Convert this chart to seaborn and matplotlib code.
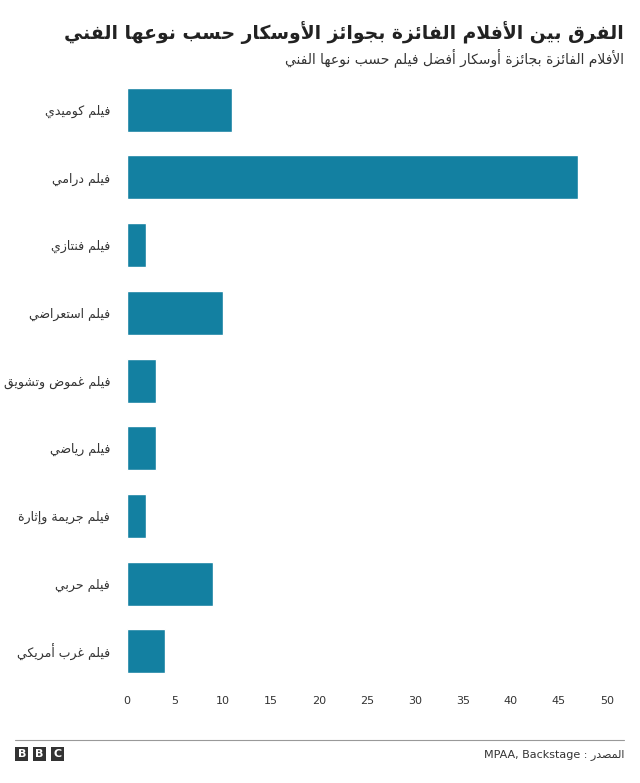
import matplotlib
matplotlib.use("Agg")
import matplotlib.pyplot as plt
import seaborn as sns
import pandas as pd

genres = ["فيلم كوميدي", "فيلم درامي", "فيلم فنتازي", "فيلم استعراضي", "فيلم غموض وتشويق",
          "فيلم رياضي", "فيلم جريمة وإثارة", "فيلم حربي", "فيلم غرب أمريكي"]
values = [11, 47, 2, 10, 3, 3, 2, 9, 4]
xticks = [0, 5, 10, 15, 20, 25, 30, 35, 40, 45, 50]
title = "الفرق بين الأفلام الفائزة بجوائز الأوسكار حسب نوعها الفني"
subtitle = "الأفلام الفائزة بجائزة أوسكار أفضل فيلم حسب نوعها الفني"
source_ar = "المصدر"
source_en = "MPAA, Backstage"

F4 = {'ب':0xFE8F,'ت':0xFE95,'ث':0xFE99,'ج':0xFE9D,'ح':0xFEA1,'خ':0xFEA5,'س':0xFEB1,'ش':0xFEB5,
      'ص':0xFEB9,'ض':0xFEBD,'ط':0xFEC1,'ظ':0xFEC5,'ع':0xFEC9,'غ':0xFECD,'ف':0xFED1,'ق':0xFED5,
      'ك':0xFED9,'ل':0xFEDD,'م':0xFEE1,'ن':0xFEE5,'ه':0xFEE9,'ي':0xFEF1,'ئ':0xFE89}
F2 = {'ا':0xFE8D,'أ':0xFE83,'إ':0xFE87,'آ':0xFE81,'ة':0xFE93,'د':0xFEA9,'ذ':0xFEAB,'ر':0xFEAD,
      'ز':0xFEAF,'و':0xFEED,'ى':0xFEEF,'ؤ':0xFE85}
LAMALEF = {'ا':0xFEFB,'أ':0xFEF7,'إ':0xFEF9,'آ':0xFEF5}

def shape(s):
    toks = []
    i = 0
    while i < len(s):
        if s[i] == 'ل' and i + 1 < len(s) and s[i+1] in LAMALEF:
            toks.append(('LA', s[i+1])); i += 2
        else:
            toks.append(('C', s[i])); i += 1
    def joins_next(t):
        return t[0] == 'C' and t[1] in F4
    def joins_prev(t):
        return t[0] == 'LA' or (t[0] == 'C' and (t[1] in F4 or t[1] in F2))
    out = []
    for k, t in enumerate(toks):
        prev = toks[k-1] if k > 0 else None
        nxt = toks[k+1] if k + 1 < len(toks) else None
        jp = prev is not None and joins_next(prev) and joins_prev(t)
        if t[0] == 'LA':
            out.append(chr(LAMALEF[t[1]] + (1 if jp else 0))); continue
        c = t[1]
        jn = nxt is not None and joins_next(t) and joins_prev(nxt)
        if c in F4:
            b = F4[c]
            out.append(chr(b + (3 if jp and jn else 1 if jp else 2 if jn else 0)))
        elif c in F2:
            out.append(chr(F2[c] + (1 if jp else 0)))
        else:
            out.append(c)
    return ''.join(out)[::-1]

sns.set_theme(style="white")
plt.rcParams['font.family'] = ['DejaVu Sans']

df = pd.DataFrame({"genre": [shape(g) for g in genres], "value": values})
fig = plt.figure(figsize=(6.4, 7.83), dpi=100)
ax = fig.add_axes([0.198, 0.125, 0.75, 0.778])
sns.barplot(data=df, x="value", y="genre", color="#1380A1", width=0.65, ax=ax, saturation=1)
ax.set_xlim(0, 50)
ax.set_xticks(xticks)
ax.set_xticklabels([str(t) for t in xticks], fontsize=8, color="#333333")
ax.tick_params(axis='y', labelsize=9, colors="#333333", length=0, pad=12)
ax.tick_params(axis='x', length=0, pad=8)
ax.set_xlabel(""); ax.set_ylabel("")
for sp in ax.spines.values():
    sp.set_visible(False)

fig.text(0.975, 0.958, shape(title), ha="right", va="center", fontsize=13.5, fontweight="bold", color="#222222")
fig.text(0.975, 0.926, shape(subtitle), ha="right", va="center", fontsize=10, color="#333333")

fig.add_artist(plt.Line2D([0.023, 0.975], [0.055, 0.055], color="#999999", lw=0.8))
fig.text(0.975, 0.037, source_en + " : " + shape(source_ar), ha="right", va="center", fontsize=8, color="#333333")
for j, ch in enumerate("BBC"):
    fig.text(0.034 + j * 0.028, 0.037, ch, ha="center", va="center", fontsize=8, fontweight="bold",
             color="white", bbox=dict(boxstyle="square,pad=0.2", fc="#333333", ec="none"))

fig.savefig("out.png", dpi=100)
